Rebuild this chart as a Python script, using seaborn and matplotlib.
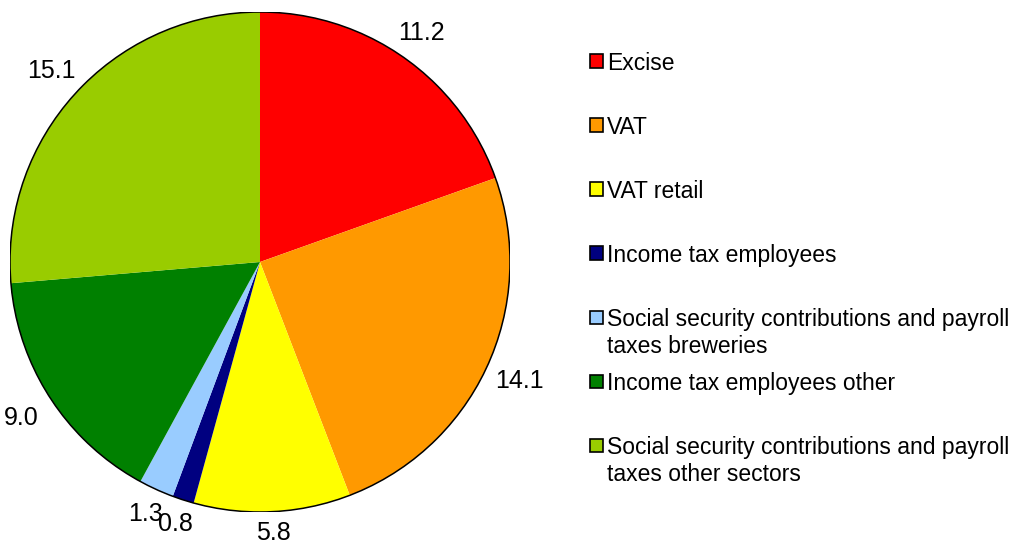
import matplotlib
matplotlib.use('Agg')
import numpy as np
import matplotlib.pyplot as plt
import seaborn as sns
from matplotlib.patches import Circle, Rectangle

# =====================
# DATA
# =====================
categories = ['Excise', 'VAT', 'VAT retail', 'Income tax employees',
              'Social security contributions and payroll\ntaxes breweries',
              'Income tax employees other',
              'Social security contributions and payroll\ntaxes other sectors']
values = [11.2, 14.1, 5.8, 0.8, 1.3, 9.0, 15.1]
colors = ['#FF0000', '#FF9900', '#FFFF00', '#000080', '#99CCFF', '#008000', '#99CC00']

sns.set_theme(style='white')
plt.rcParams['font.family'] = ['Liberation Sans', 'DejaVu Sans']

W, H = 1021, 547
fig = plt.figure(figsize=(W / 100, H / 100), dpi=100)

# pie area (pixel box: x 10..510, y 12..512)
ax = fig.add_axes([10 / W, (H - 512) / H, 500 / W, 500 / H])
wedges, texts = ax.pie(values, colors=colors, startangle=90, counterclock=False,
                       labels=[f'{v:.1f}' for v in values], labeldistance=1.1,
                       wedgeprops=dict(edgecolor='none', linewidth=0),
                       textprops=dict(fontsize=18, color='black'))
# centre each label outside its wedge, a bit further out at the sides
for w, t in zip(wedges, texts):
    ang = np.deg2rad((w.theta1 + w.theta2) / 2)
    r = 1.08 + 0.07 * abs(np.cos(ang))
    t.set_position((r * np.cos(ang), r * np.sin(ang)))
    t.set_ha('center')
    t.set_va('center')
    t.set_clip_on(False)
ax.add_patch(Circle((0, 0), 1, fill=False, edgecolor='black', linewidth=1.1))
ax.set_xlim(-1, 1)
ax.set_ylim(-1, 1)
ax.set_aspect('equal')
ax.axis('off')

# legend, markers evenly spaced, text top-aligned to marker
y0, dy = 61, 64
for i, (lab, col) in enumerate(zip(categories, colors)):
    yc = y0 + dy * i
    fig.patches.append(Rectangle((590 / W, (H - yc - 6.5) / H), 13 / W, 13 / H,
                                 facecolor=col, edgecolor='black', linewidth=1.2,
                                 transform=fig.transFigure, figure=fig))
    fig.text(607 / W, (H - yc + 9) / H, lab, fontsize=16.5, va='top',
             ha='left', linespacing=1.2, color='black')

fig.savefig('out.png', dpi=100, facecolor='white')
